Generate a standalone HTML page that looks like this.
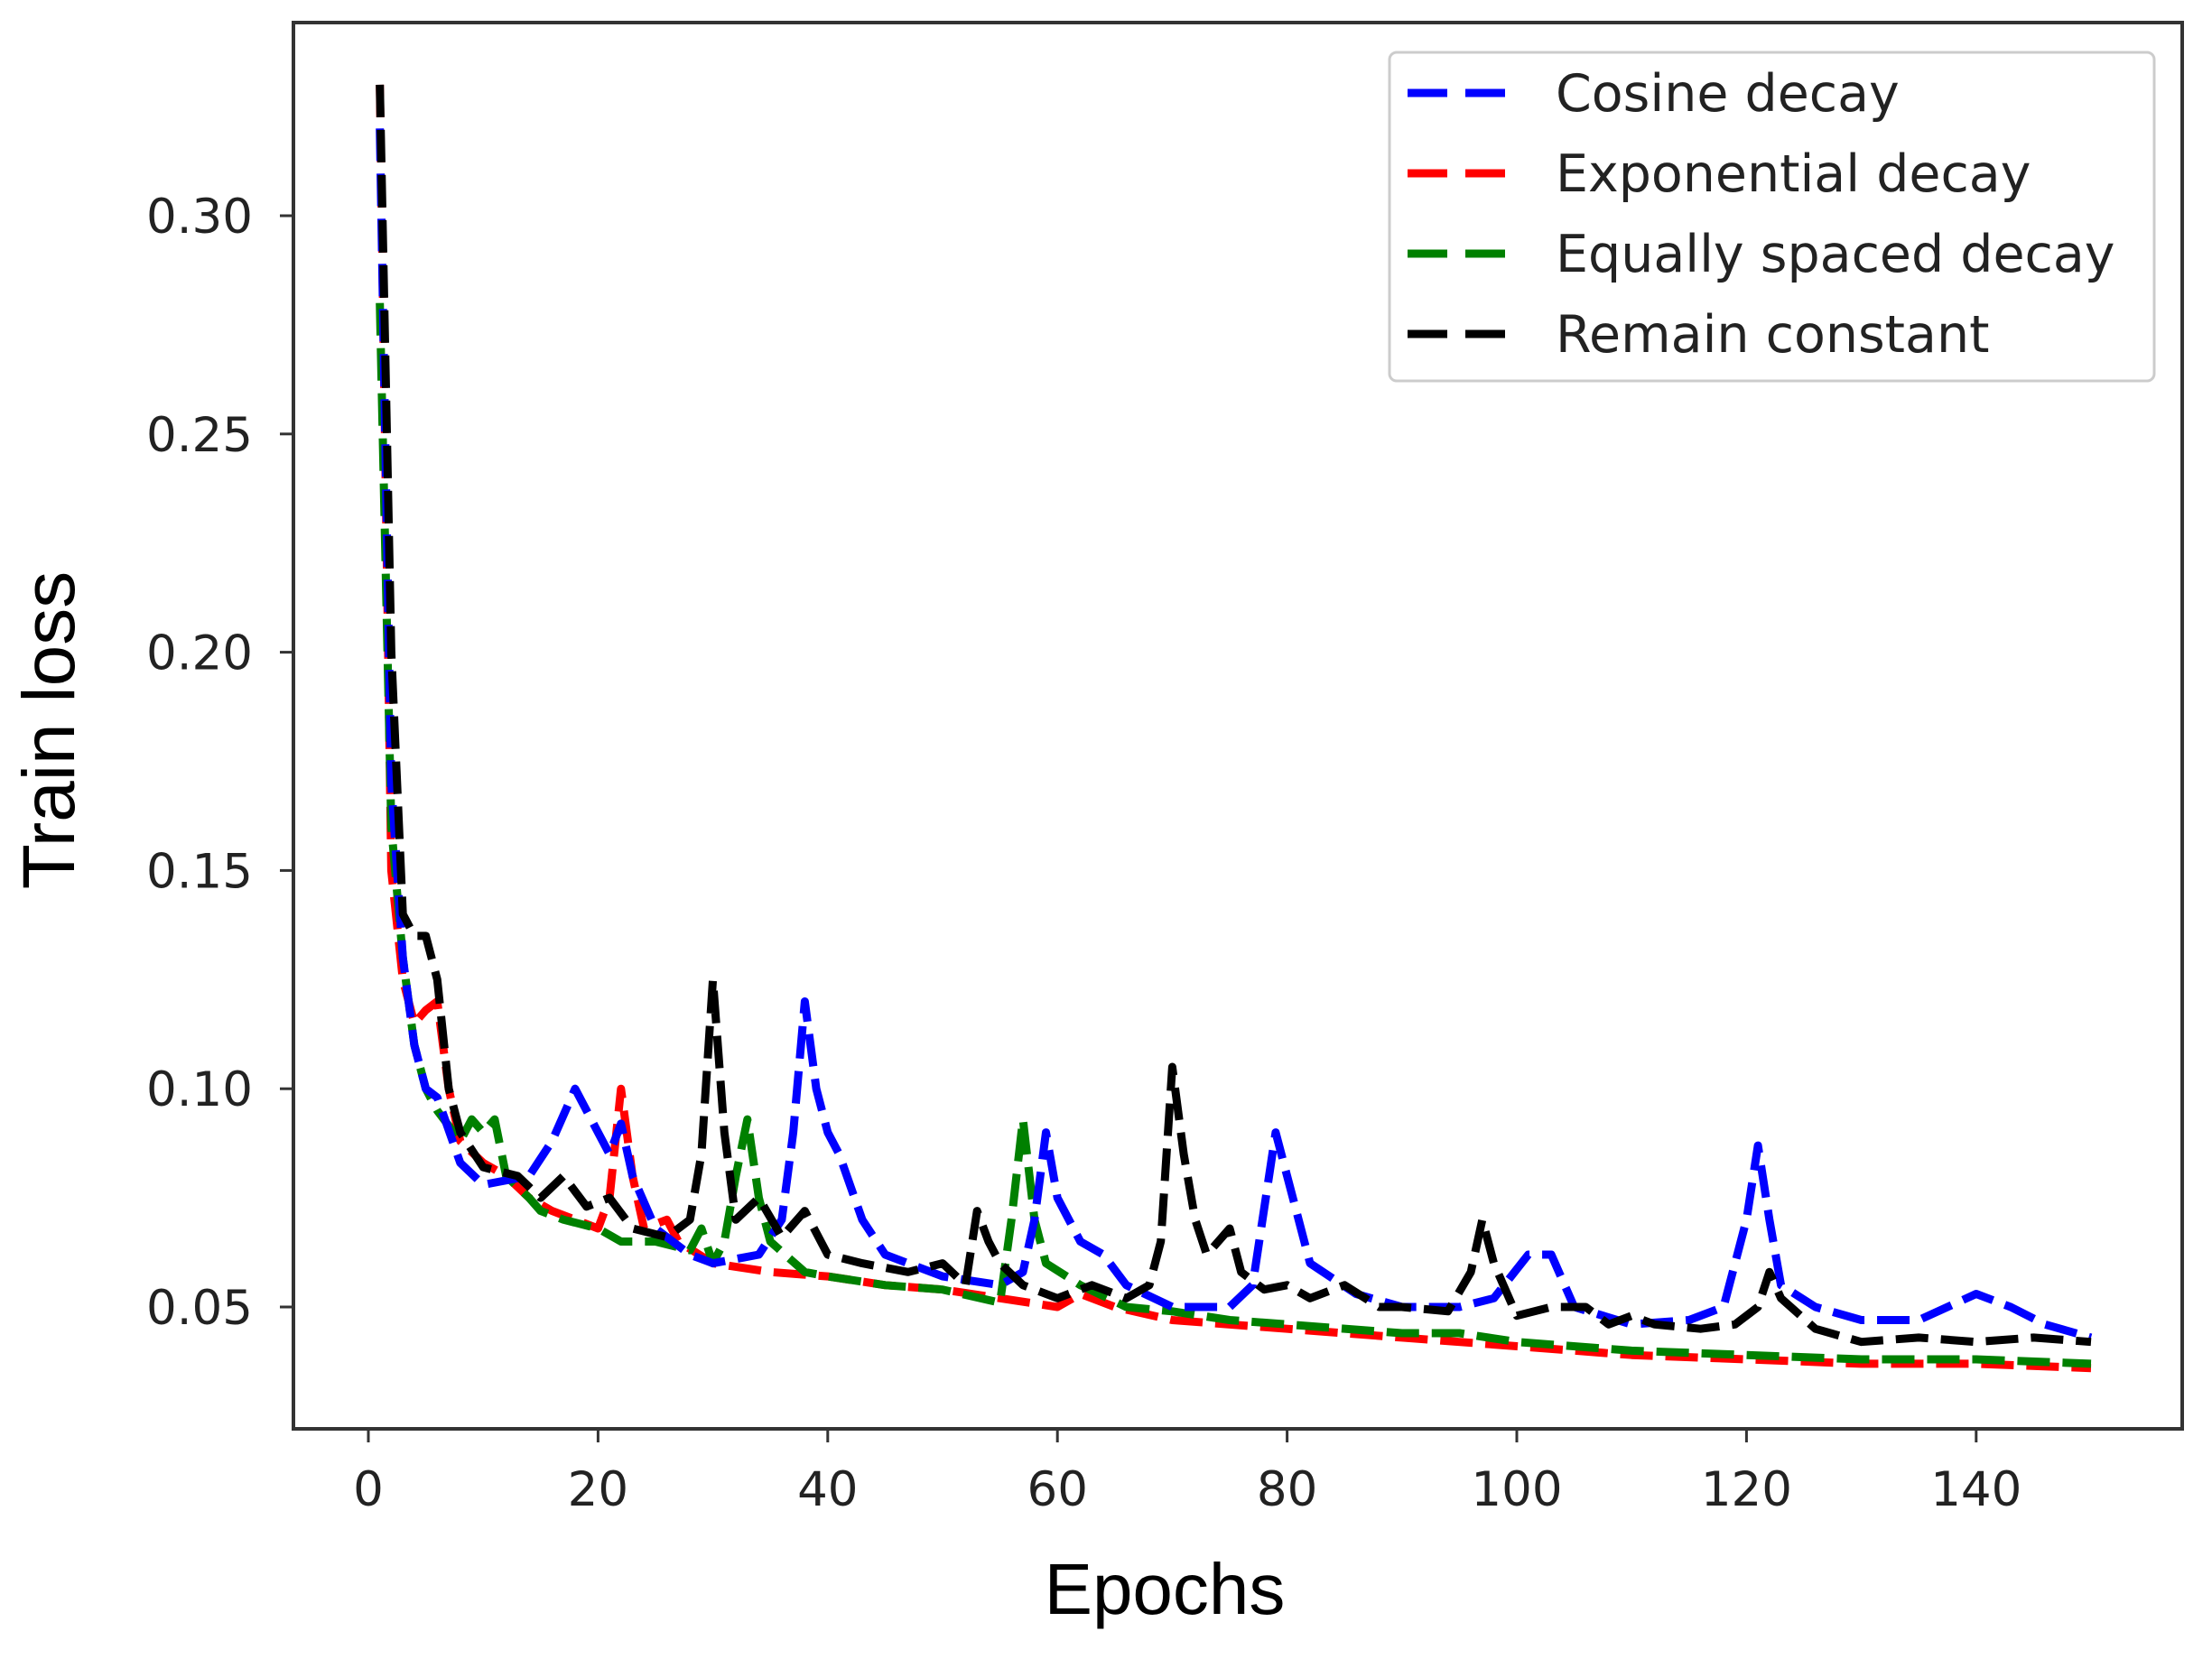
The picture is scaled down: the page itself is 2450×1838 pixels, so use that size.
<!DOCTYPE html>
<html><head><meta charset="utf-8"><style>
body{margin:0;background:#fff;}
svg{display:block;font-family:"DejaVu Sans","Liberation Sans",sans-serif;}
</style></head><body>
<svg id="chart" width="2450" height="1838" viewBox="0 0 2450 1838">
<rect x="0" y="0" width="2450" height="1838" fill="#fff"/>
<g id="marks"></g>
<rect x="325" y="25" width="2092" height="1558" fill="none" stroke="#333" stroke-width="4"/>
<g id="xticks"></g>
<g id="yticks"></g>
<text x="1290" y="1788" font-size="80" font-family="Liberation Sans, sans-serif" text-anchor="middle" fill="#000">Epochs</text>
<text transform="translate(82,809) rotate(-90)" font-size="82" font-family="Liberation Sans, sans-serif" text-anchor="middle" fill="#000">Train loss</text>
<g>
<rect x="1539" y="58" width="847" height="364" rx="8" fill="#fff" fill-opacity="0.9" stroke="#ccc" stroke-width="3"/>
<g id="legend-items"></g>
</g>
</svg>
<script>
const xTicks=[0,20,40,60,80,100,120,140];
const yTicks=[0.05,0.10,0.15,0.20,0.25,0.30];
const yTickLabels=["0.05","0.10","0.15","0.20","0.25","0.30"];
const seriesNames=["Cosine decay","Exponential decay","Equally spaced decay","Remain constant"];
const seriesColors=["#0000ff","#ff0000","#008000","#000000"];
const cosineEpochs=[1,2,3,4,5,6,8,10,14,16,18,20,21,22,23,25,28,30,34,36,37,38,39,40,41,43,45,50,55,57,58,59,60,62,64,66,70,75,77,79,80,82,86,90,95,98,101,103,105,110,115,118,120,121,122,123,126,130,135,140,143,146,150];
const cosineLoss=[0.32,0.17,0.13,0.11,0.10,0.098,0.083,0.078,0.08,0.088,0.10,0.09,0.085,0.092,0.08,0.068,0.062,0.06,0.062,0.07,0.09,0.12,0.10,0.09,0.085,0.07,0.062,0.057,0.055,0.058,0.07,0.09,0.075,0.065,0.062,0.055,0.05,0.05,0.055,0.09,0.08,0.06,0.053,0.05,0.05,0.052,0.062,0.062,0.05,0.046,0.047,0.05,0.07,0.087,0.07,0.055,0.05,0.047,0.047,0.053,0.05,0.046,0.043];
const expEpochs=[1,2,3,4,5,6,7,8,10,12,14,16,18,20,21,22,23,24,26,27,30,35,40,45,50,55,60,62,65,70,80,90,100,110,120,130,140,150];
const expLoss=[0.33,0.15,0.125,0.115,0.118,0.12,0.10,0.088,0.083,0.08,0.075,0.072,0.07,0.068,0.075,0.10,0.08,0.068,0.07,0.065,0.06,0.058,0.057,0.055,0.054,0.052,0.05,0.053,0.05,0.047,0.045,0.043,0.041,0.039,0.038,0.037,0.037,0.036];
const equalEpochs=[1,2,3,4,5,6,8,9,10,11,12,14,15,17,20,22,25,28,29,30,31,32,33,34,35,38,40,45,50,55,56,57,58,59,62,66,70,75,80,90,95,100,110,120,130,140,150];
const equalLoss=[0.28,0.16,0.13,0.11,0.10,0.095,0.088,0.093,0.09,0.093,0.08,0.075,0.072,0.07,0.068,0.065,0.065,0.063,0.068,0.06,0.065,0.08,0.093,0.075,0.065,0.058,0.057,0.055,0.054,0.051,0.07,0.093,0.07,0.06,0.055,0.05,0.049,0.047,0.046,0.044,0.044,0.042,0.04,0.039,0.038,0.038,0.037];
const constEpochs=[1,2,3,4,5,6,7,8,10,13,15,17,19,21,23,26,28,29,30,31,32,34,36,38,40,43,47,50,52,53,54,55,57,60,63,66,68,69,70,71,72,73,75,76,78,80,82,85,88,90,94,96,97,98,100,103,106,108,110,112,116,119,121,122,123,126,130,135,140,145,150];
const constLoss=[0.33,0.20,0.14,0.135,0.135,0.125,0.10,0.09,0.082,0.08,0.075,0.08,0.073,0.075,0.068,0.066,0.07,0.085,0.125,0.09,0.07,0.075,0.066,0.072,0.062,0.06,0.058,0.06,0.055,0.072,0.065,0.06,0.055,0.052,0.055,0.052,0.055,0.065,0.105,0.085,0.07,0.062,0.068,0.058,0.054,0.055,0.052,0.055,0.05,0.05,0.049,0.058,0.07,0.06,0.048,0.05,0.05,0.046,0.048,0.046,0.045,0.046,0.05,0.058,0.052,0.045,0.042,0.043,0.042,0.043,0.042];

const NS="http://www.w3.org/2000/svg";
function xScale(v){return 408+v*12.72;}
function yScale(v){return 1448-(v-0.05)*(1209/0.25);}
function mk(tag,attrs,parent){const e=document.createElementNS(NS,tag);for(const k in attrs)e.setAttribute(k,attrs[k]);parent.appendChild(e);return e;}

const xg=document.getElementById('xticks');
xTicks.forEach(t=>{
  const l=mk('line',{x1:xScale(t),x2:xScale(t),y1:1583,y2:1598,stroke:'#333','stroke-width':3},xg);
  
  
  const tx=mk('text',{x:xScale(t),y:1668,'font-size':53,'text-anchor':'middle',fill:'#222'},xg);
  tx.textContent=String(t);
  
  
});
const yg=document.getElementById('yticks');
yTicks.forEach((t,i)=>{
  const l=mk('line',{x1:310,x2:325,y1:yScale(t),y2:yScale(t),stroke:'#333','stroke-width':3},yg);
  
  
  const tx=mk('text',{x:280,y:yScale(t)+19,'font-size':53,'text-anchor':'end',fill:'#222'},yg);
  tx.textContent=yTickLabels[i];
  
  
});

const allEpochs=[cosineEpochs,expEpochs,equalEpochs,constEpochs];
const allLoss=[cosineLoss,expLoss,equalLoss,constLoss];
const lineNames=['cosine-decay-line','exponential-decay-line','equally-spaced-decay-line','remain-constant-line'];
const mg=document.getElementById('marks');
[1,2,0,3].forEach(s=>{
  const d=allEpochs[s].map((e,i)=>(i?'L':'M')+xScale(e).toFixed(1)+','+yScale(allLoss[s][i]).toFixed(1)).join(' ');
  const p=mk('path',{d:d,fill:'none',stroke:seriesColors[s],'stroke-width':9,'stroke-dasharray':'36 14','stroke-linejoin':'round'},mg);
  
  
});

const lg=document.getElementById('legend-items');
seriesNames.forEach((n,i)=>{
  const y=103+i*89;
  const l=mk('line',{x1:1559,x2:1669,y1:y,y2:y,stroke:seriesColors[i],'stroke-width':9,'stroke-dasharray':'44 20'},lg);
  
  
  const t=mk('text',{x:1723,y:y+20,'font-size':57,fill:'#222'},lg);
  t.textContent=n;
  
  
});
</script>
</body></html>
